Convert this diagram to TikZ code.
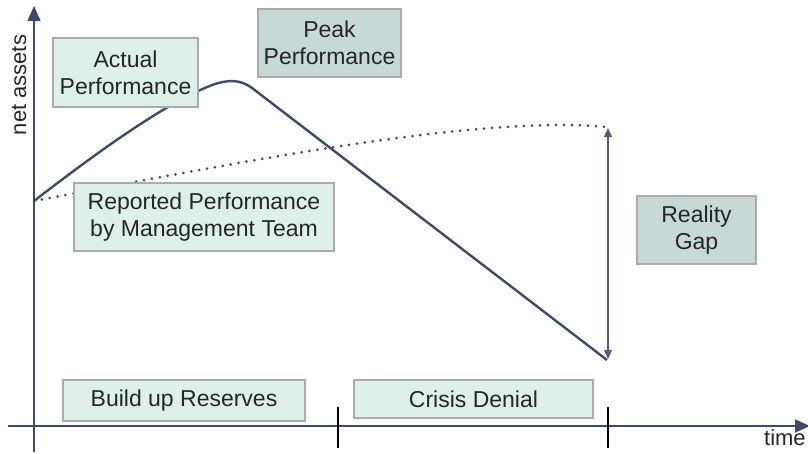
\documentclass[tikz,border=0pt]{standalone}
\usepackage{fontspec}
\setmainfont{Liberation Sans}
\usetikzlibrary{shapes,arrows,arrows.meta,positioning}
\definecolor{slate}{HTML}{3D4A68}
\definecolor{gapline}{HTML}{4E5F78}
\definecolor{mint}{HTML}{DFF0EB}
\definecolor{sage}{HTML}{C8D8D4}
\definecolor{frame}{HTML}{ABABAB}
\begin{document}
\begin{tikzpicture}[x=1pt, y=-1pt, semithick]
        \tikzstyle{label box}=[draw=frame, line width=1.6pt, align=center, inner sep=2pt,
            font=\fontsize{23}{27}\selectfont, text=black!85]
        \tikzstyle{light box}=[label box, fill=mint]
        \tikzstyle{dark box}=[label box, fill=sage]
        \tikzstyle{axis line}=[draw=slate, line width=1.8pt, -{Triangle[length=15pt,width=13pt]}]
        \tikzstyle{curve}=[draw=slate, line width=2.4pt, line join=round]
        \tikzstyle{tick}=[draw=black, line width=1.1pt]
        \useasboundingbox (0,0) rectangle (808,453);
        % axes
        \coordinate (ys) at (34,452);
        \coordinate (ye) at (34,6);
        \coordinate (xs) at (8,426);
        \coordinate (xe) at (810,426);
        \draw[axis line] (ys) -- (ye);
        \draw[axis line] (xs) -- (xe);
        \node[rotate=90, font=\fontsize{22}{26}\selectfont, text=black!85] (ylab) at (19,85) {net assets};
        \node[anchor=north east, font=\fontsize{22}{26}\selectfont, text=black!85, inner sep=0pt] (xlab) at (806,429) {time};
        % ticks
        \coordinate (t1a) at (338,407);
        \coordinate (t1b) at (338,448);
        \coordinate (t2a) at (608,407);
        \coordinate (t2b) at (608,448);
        \draw[tick] (t1a) -- (t1b);
        \draw[tick] (t2a) -- (t2b);
        % curves
        \coordinate (start) at (34,201);
        \coordinate (top) at (215,84);
        \coordinate (fall) at (252,88);
        \coordinate (low) at (607,360);
        \coordinate (high) at (607,127);
        \draw[curve] (start) .. controls (100,150) and (170,100) .. (top)
            .. controls (228,80) and (240,79) .. (fall) -- (low);
        \draw[slate, line width=3pt, dash pattern=on 0pt off 8pt, line cap=round] (start) .. controls (250,160) and (480,115) .. (high);
        \draw[gapline, line width=1.3pt, {Triangle[length=9pt,width=8pt]}-{Triangle[length=9pt,width=8pt]}] (608,128) -- (608,359);
        % labels
        \node[light box, minimum width=145pt, minimum height=69pt] (actual) at (125.5,72.5) {Actual\\Performance};
        \node[dark box, minimum width=143pt, minimum height=68pt] (peak) at (329.5,43) {Peak\\Performance};
        \node[light box, minimum width=260pt, minimum height=68pt] (reported) at (204,217) {Reported Performance\\by Management Team};
        \node[dark box, minimum width=119pt, minimum height=68pt] (gap) at (696.5,230) {Reality\\Gap};
        \node[light box, minimum width=242pt, minimum height=41pt] (reserves) at (184,400.5) {Build up Reserves};
        \node[light box, minimum width=239pt, minimum height=38pt] (denial) at (473.5,399) {Crisis Denial};
    \end{tikzpicture}
\end{document}
